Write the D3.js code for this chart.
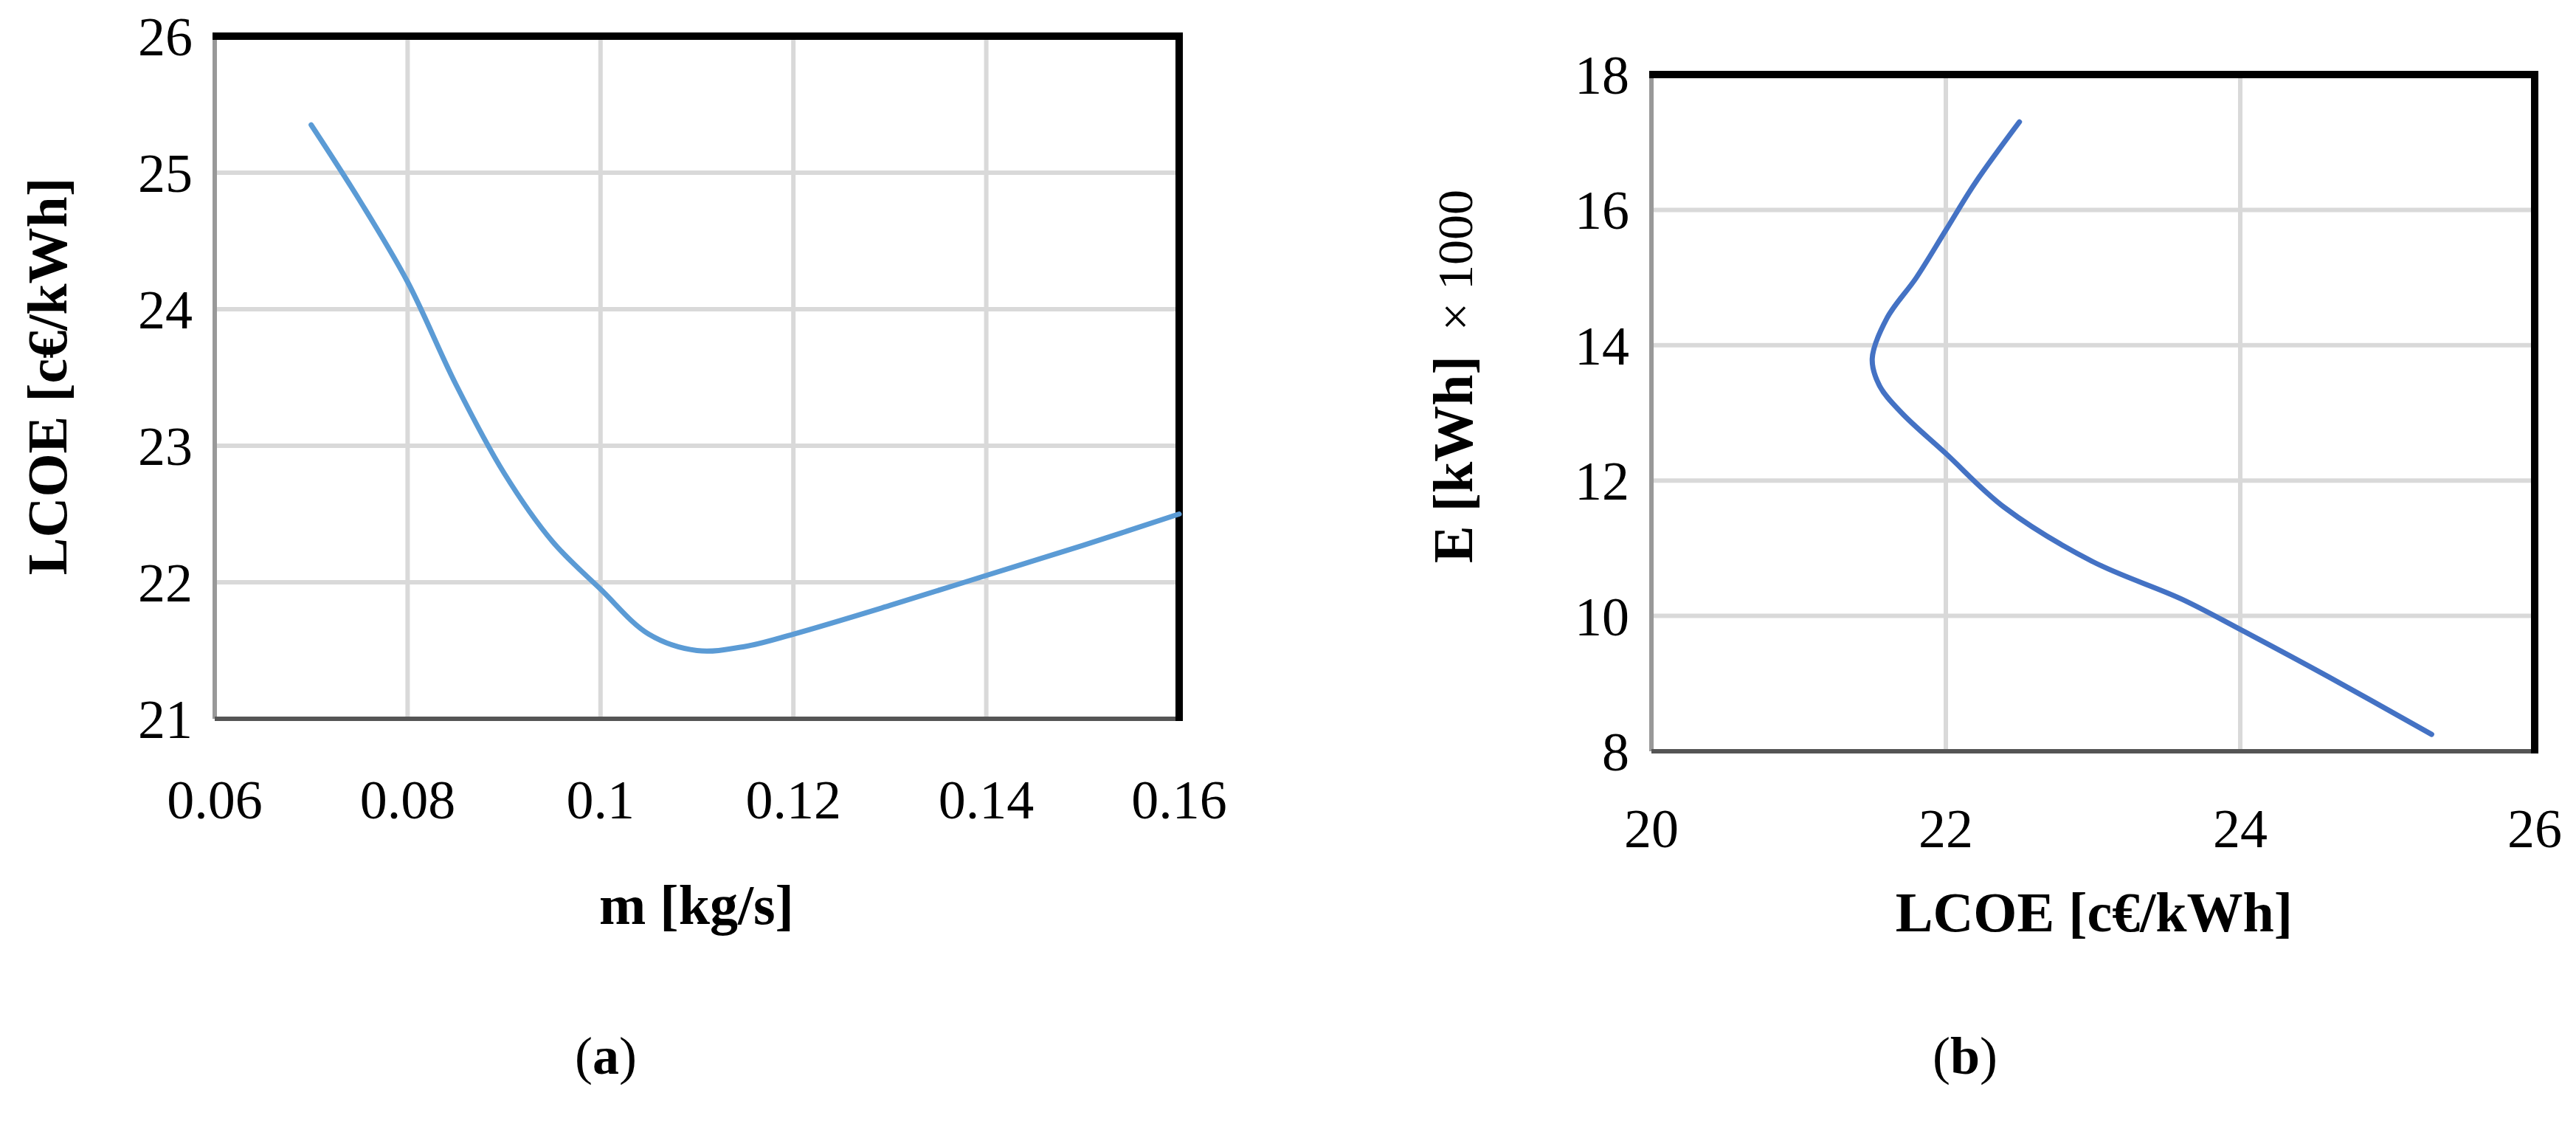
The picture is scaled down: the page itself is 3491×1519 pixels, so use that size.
<!DOCTYPE html>
<html><head><meta charset="utf-8">
<script src="https://cdn.jsdelivr.net/npm/d3@7"></script>
<style>body{margin:0;background:#fff}text{font-family:"Liberation Serif","DejaVu Serif",serif}</style>
</head><body>
<svg id="c" width="3491" height="1519"></svg>
<script>
// panel (a): LCOE vs mass flow
var massFlow = [0.07,0.075,0.08,0.085,0.09,0.095,0.1,0.105,0.11,0.115,0.12,0.13,0.14,0.15,0.16];
var lcoeA    = [25.35,24.8,24.2,23.45,22.8,22.3,21.95,21.62,21.5,21.53,21.62,21.83,22.05,22.27,22.5];
var xTicksA = [0.06,0.08,0.1,0.12,0.14,0.16];
var yTicksA = [21,22,23,24,25,26];

// panel (b): energy vs LCOE
var lcoeB   = [22.5,22.2,22.0,21.8,21.6,21.5,21.55,21.7,22.0,22.4,23.0,23.6,24.0,24.6,25.3];
var energyB = [17.3,16.4,15.7,15.0,14.4,13.8,13.4,13.0,12.4,11.6,10.8,10.25,9.8,9.1,8.25];
var xTicksB = [20,22,24,26];
var yTicksB = [8,10,12,14,16,18];

var svg = d3.select('#c');

function panel(o) {
  var x = d3.scaleLinear().domain(o.xd).range([o.l, o.r]);
  var y = d3.scaleLinear().domain(o.yd).range([o.b, o.t]);
  var g = svg.append('g');
  g.selectAll('.gx').data(o.xt.slice(1, -1)).enter().append('line')
    .attr('x1', d => x(d)).attr('x2', d => x(d)).attr('y1', o.t).attr('y2', o.b)
    .attr('stroke', '#d9d9d9').attr('stroke-width', 6);
  g.selectAll('.gy').data(o.yt.slice(1, -1)).enter().append('line')
    .attr('y1', d => y(d)).attr('y2', d => y(d)).attr('x1', o.l).attr('x2', o.r)
    .attr('stroke', '#d9d9d9').attr('stroke-width', 6);
  // frame: thin grey left/bottom, heavy black top/right
  g.append('line').attr('x1', o.l).attr('x2', o.l).attr('y1', o.t).attr('y2', o.b).attr('stroke', '#999').attr('stroke-width', 6);
  g.append('line').attr('x1', o.l).attr('x2', o.r).attr('y1', o.b).attr('y2', o.b).attr('stroke', '#555').attr('stroke-width', 6);
  g.append('line').attr('x1', o.l - 3).attr('x2', o.r + 5).attr('y1', o.t).attr('y2', o.t).attr('stroke', '#000').attr('stroke-width', 10);
  g.append('line').attr('x1', o.r).attr('x2', o.r).attr('y1', o.t).attr('y2', o.b + 3).attr('stroke', '#000').attr('stroke-width', 10);

  var line = d3.line().x(d => x(d[0])).y(d => y(d[1])).curve(d3.curveCatmullRom);
  g.append('path').datum(o.pts).attr('d', line).attr('fill', 'none')
    .attr('stroke', o.color).attr('stroke-width', 7).attr('stroke-linecap', 'round');

  g.selectAll('.tx').data(o.xt).enter().append('text')
    .attr('x', d => x(d)).attr('y', o.b + o.xtOff).attr('text-anchor', 'middle')
    .attr('font-size', 74).text(d => d);
  g.selectAll('.ty').data(o.yt).enter().append('text')
    .attr('x', o.l - 30).attr('y', d => y(d) + 26).attr('text-anchor', 'end')
    .attr('font-size', 74).text(d => d);
  return {x: x, y: y};
}

panel({l: 291, r: 1598, t: 49, b: 974, xd: [0.06, 0.16], yd: [21, 26],
  xt: xTicksA, yt: yTicksA, xtOff: 135, color: '#5b9bd5',
  pts: massFlow.map((m, i) => [m, lcoeA[i]])});
panel({l: 2238, r: 3435, t: 101, b: 1018, xd: [20, 26], yd: [8, 18],
  xt: xTicksB, yt: yTicksB, xtOff: 130, color: '#4472c4',
  pts: lcoeB.map((v, i) => [v, energyB[i]])});

// titles
svg.append('text').attr('x', 944).attr('y', 1252).attr('text-anchor', 'middle')
  .attr('font-size', 76).attr('font-weight', 'bold').text('m [kg/s]');
svg.append('text').attr('transform', 'translate(90,510) rotate(-90)').attr('text-anchor', 'middle')
  .attr('font-size', 76).attr('font-weight', 'bold').text('LCOE [c€/kWh]');
svg.append('text').attr('x', 2838).attr('y', 1262).attr('text-anchor', 'middle')
  .attr('font-size', 76).attr('font-weight', 'bold').text('LCOE [c€/kWh]');
var yb = svg.append('text').attr('transform', 'translate(1995,510) rotate(-90)').attr('text-anchor', 'middle')
  .attr('font-size', 76);
yb.append('tspan').attr('font-weight', 'bold').text('E [kWh]');
yb.append('tspan').attr('font-size', 68).attr('xml:space', 'preserve').text('  × 1000');

svg.append('text').attr('x', 821).attr('y', 1455).attr('text-anchor', 'middle').attr('font-size', 72)
  .html('(<tspan font-weight="bold">a</tspan>)');
svg.append('text').attr('x', 2663).attr('y', 1455).attr('text-anchor', 'middle').attr('font-size', 72)
  .html('(<tspan font-weight="bold">b</tspan>)');
</script>
</body></html>
